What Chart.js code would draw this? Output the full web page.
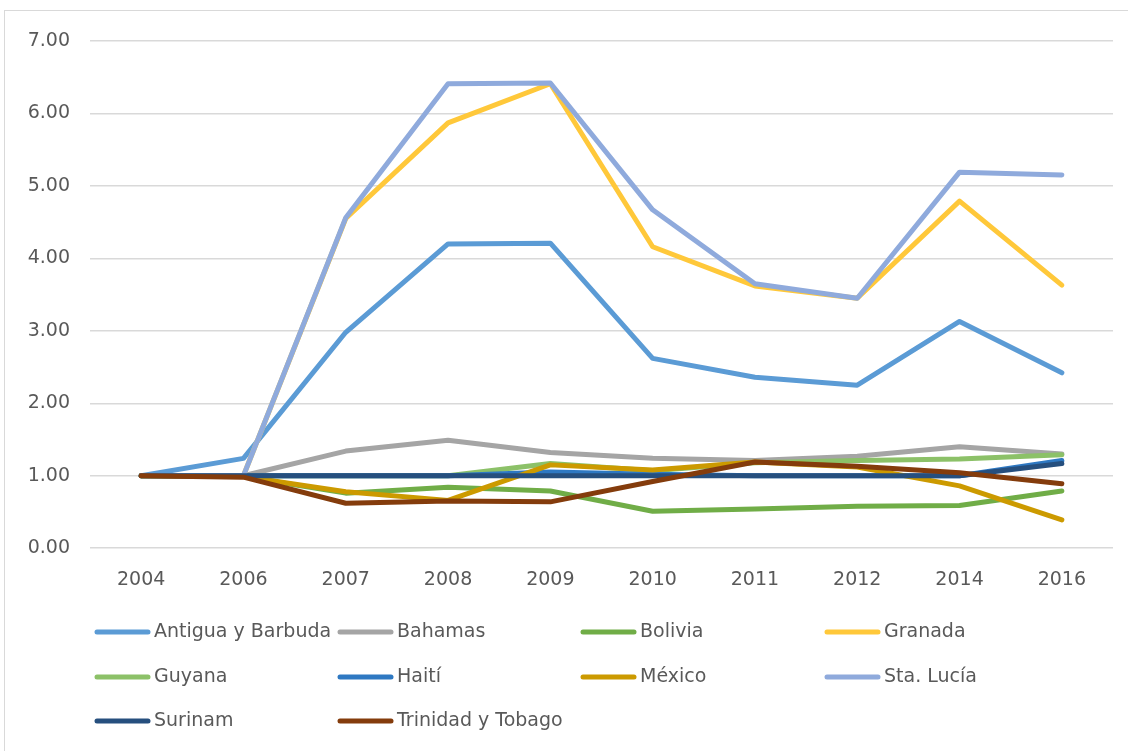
<!DOCTYPE html>
<html><head><meta charset="utf-8">
<script src="https://cdn.jsdelivr.net/npm/chart.js@4/dist/chart.umd.min.js"></script>
<style>
html,body{margin:0;padding:0;background:#fff;}
#wrap{position:absolute;left:0;top:0;width:1128px;height:751px;}
#frame{position:absolute;left:4px;top:10px;width:1130px;height:750px;border:1px solid #D9D9D9;box-sizing:border-box;}
</style></head>
<body>
<div id="wrap"><div id="frame"></div><canvas id="c" width="1128" height="751"></canvas></div>
<script>
const years = ["2004","2006","2007","2008","2009","2010","2011","2012","2014","2016"];
const yTicks = [0,1,2,3,4,5,6,7];
const seriesNames = ["Antigua y Barbuda","Bahamas","Bolivia","Granada","Guyana","Haití","México","Sta. Lucía","Surinam","Trinidad y Tobago"];
const antigua  = [1.00,1.24,2.98,4.20,4.21,2.62,2.36,2.25,3.13,2.42];
const bahamas  = [1.00,1.00,1.34,1.49,1.32,1.24,1.21,1.27,1.40,1.30];
const bolivia  = [1.00,0.99,0.76,0.84,0.79,0.51,0.54,0.58,0.59,0.79];
const granada  = [1.00,1.00,4.55,5.87,6.41,4.16,3.62,3.45,4.79,3.63];
const guyana   = [1.00,1.00,1.00,1.00,1.17,1.07,1.18,1.21,1.23,1.29];
const haiti    = [1.00,1.00,1.00,1.00,1.05,1.02,1.00,1.00,1.00,1.21];
const mexico   = [1.00,0.99,0.78,0.66,1.15,1.08,1.19,1.12,0.86,0.39];
const stalucia = [1.00,1.00,4.56,6.41,6.42,4.67,3.65,3.45,5.19,5.15];
const surinam  = [1.00,1.00,1.00,1.00,1.00,1.00,1.00,1.00,1.00,1.17];
const trinidad = [1.00,0.98,0.62,0.65,0.64,0.92,1.19,1.13,1.04,0.89];
const values = [antigua,bahamas,bolivia,granada,guyana,haiti,mexico,stalucia,surinam,trinidad];
const colors = ["#5B9BD5","#A5A5A5","#70AD47","#FFC83A","#8CC168","#2E78C2","#CC9A00","#8FAADC","#264F7E","#843C0C"];

const FONT = "DejaVu Sans";
const datasets = seriesNames.map((n,i)=>({
  label:n, data:values[i], borderColor:colors[i], backgroundColor:colors[i],
  borderWidth:5, pointRadius:0, pointHoverRadius:0, tension:0,
  borderCapStyle:'round', borderJoinStyle:'round', fill:false,
  order: seriesNames.length-1-i
}));

const legendPlugin = {
  id:'gridLegend',
  afterDraw(chart){
    const ctx = chart.ctx;
    const colX = [95,338,581,825];
    const rowY = [632,677,721];
    ctx.save();
    ctx.font = "19px '"+FONT+"'";
    ctx.textBaseline = 'middle';
    ctx.textAlign = 'left';
    chart.data.datasets.forEach((ds,i)=>{
      const x = colX[i%4], y = rowY[Math.floor(i/4)];
      ctx.strokeStyle = ds.borderColor;
      ctx.lineWidth = 5;
      ctx.lineCap = 'round';
      ctx.beginPath(); ctx.moveTo(x+2,y); ctx.lineTo(x+53,y); ctx.stroke();
      ctx.fillStyle = '#595959';
      ctx.fillText(ds.label, x+59, y);
    });
    ctx.restore();
  }
};

new Chart(document.getElementById('c'), {
  type:'line',
  data:{labels:years, datasets},
  options:{
    responsive:false, animation:false,
    layout:{padding:{top:41,left:0,right:15,bottom:140}},
    plugins:{legend:{display:false}, tooltip:{enabled:false}},
    scales:{
      x:{
        offset:true,
        grid:{display:false, drawTicks:false},
        border:{display:false},
        ticks:{color:'#595959', font:{family:FONT,size:19}, padding:20, maxRotation:0}
      },
      y:{
        min:0, max:7,
        afterBuildTicks(scale){ scale.ticks = yTicks.map(v=>({value:v})); },
        afterFit(scale){ scale.width = 90; },
        grid:{color:'#D9D9D9', lineWidth:1.5, drawTicks:false},
        border:{display:false},
        ticks:{color:'#595959', font:{family:FONT,size:19}, padding:20,
               callback:(v)=>Number(v).toFixed(2)}
      }
    }
  },
  plugins:[legendPlugin]
});
</script>
</body></html>
